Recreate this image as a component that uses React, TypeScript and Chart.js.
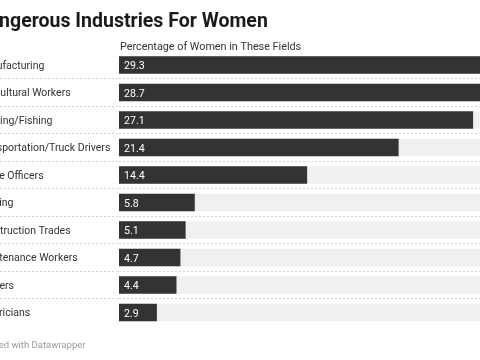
import { useEffect, useRef } from "react";
import { Chart, registerables } from "chart.js";

Chart.register(...registerables);

const TITLE = "Dangerous Industries For Women";
const SUBTITLE = "Percentage of Women in These Fields";
const FOOTER = "Created with Datawrapper";

const CATEGORIES = [
  "Manufacturing",
  "Agricultural Workers",
  "Farming/Fishing",
  "Transportation/Truck Drivers",
  "Police Officers",
  "Welding",
  "Construction Trades",
  "Maintenance Workers",
  "Loggers",
  "Electricians",
];

const VALUES = [29.3, 28.7, 27.1, 21.4, 14.4, 5.8, 5.1, 4.7, 4.4, 2.9];

const AXIS_MAX = 30;
const TRACK = CATEGORIES.map(() => AXIS_MAX);

const CANVAS_W = 535;
const CANVAS_H = 360;
const LABEL_W = 143;
const OFFSET_X = -24;

export default function App() {
  const ref = useRef<HTMLCanvasElement>(null);

  useEffect(() => {
    if (!ref.current) return;

    const sepColor = (ctx: any) =>
      ctx.type === "tick" && ctx.index > 0 ? "#d4d4d4" : "rgba(0,0,0,0)";

    const textPlugin = {
      id: "dwTexts",
      afterDraw(chart: any) {
        const ctx = chart.ctx as CanvasRenderingContext2D;
        ctx.save();
        ctx.textAlign = "left";
        ctx.textBaseline = "alphabetic";
        ctx.fillStyle = "#1a1a1a";
        ctx.font = "700 19.5px Roboto";
        ctx.fillText(TITLE, 0, 26.7);
        ctx.fillStyle = "#333333";
        ctx.font = "400 10.8px Roboto";
        ctx.fillText(SUBTITLE, chart.chartArea.left + 1, 50);
        ctx.fillStyle = "#999999";
        ctx.font = "400 9.5px Roboto";
        ctx.fillText(FOOTER, 0, 347.5);

        const meta = chart.getDatasetMeta(0);
        ctx.fillStyle = "#ffffff";
        ctx.font = "400 10.6px Roboto";
        meta.data.forEach((bar: any, i: number) => {
          ctx.fillText(VALUES[i].toFixed(1), bar.base + 5, bar.y + 4.2);
        });
        ctx.restore();
      },
    };

    const chart = new Chart(ref.current, {
      type: "bar",
      data: {
        labels: CATEGORIES,
        datasets: [
          {
            data: VALUES,
            backgroundColor: "#333333",
            borderWidth: 0,
            grouped: false,
            barPercentage: 0.64,
            categoryPercentage: 1,
          },
          {
            data: TRACK,
            backgroundColor: "#f0f0f0",
            borderWidth: 0,
            grouped: false,
            barPercentage: 0.64,
            categoryPercentage: 1,
          },
        ],
      },
      options: {
        indexAxis: "y",
        responsive: false,
        animation: false,
        events: [],
        layout: { padding: { top: 51.25, bottom: 33.75, left: 0, right: 0 } },
        plugins: {
          legend: { display: false },
          tooltip: { enabled: false },
          title: { display: false },
        },
        scales: {
          x: {
            display: false,
            min: 0,
            max: AXIS_MAX,
          },
          y: {
            type: "category",
            offset: true,
            afterFit(scale: any) {
              scale.width = LABEL_W;
            },
            grid: {
              offset: true,
              drawOnChartArea: true,
              drawTicks: true,
              tickLength: LABEL_W,
              color: sepColor,
              tickColor: sepColor,
              lineWidth: 1,
              tickWidth: 1,
              tickBorderDash: [2, 2],
            },
            border: { display: false, dash: [2, 2] },
            ticks: {
              crossAlign: "far",
              padding: 0,
              labelOffset: 1,
              color: "#333333",
              autoSkip: false,
              font: { family: "Roboto", size: 10.5 },
            },
          },
        },
      },
      plugins: [textPlugin],
    } as any);

    return () => chart.destroy();
  }, []);

  return (
    <div
      style={{
        position: "fixed",
        left: 0,
        top: 0,
        width: 480,
        height: 360,
        overflow: "hidden",
        background: "#ffffff",
      }}
    >
      <canvas
        ref={ref}
        width={CANVAS_W}
        height={CANVAS_H}
        style={{
          position: "absolute",
          left: OFFSET_X,
          top: 0,
          width: CANVAS_W,
          height: CANVAS_H,
        }}
      />
    </div>
  );
}
